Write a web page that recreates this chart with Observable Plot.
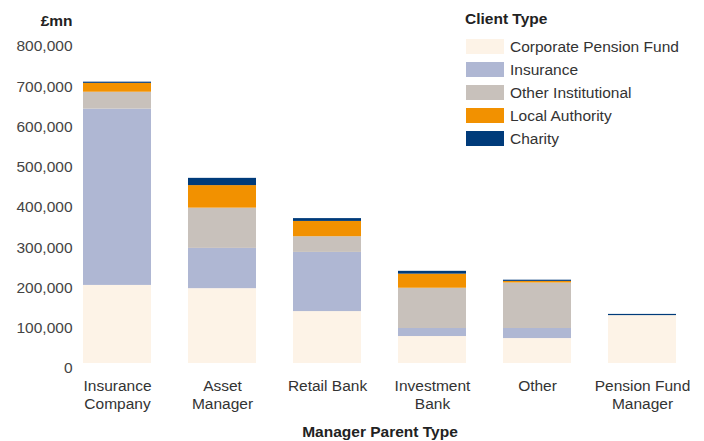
<!DOCTYPE html>
<html>
<head>
<meta charset="utf-8">
<script src="https://cdn.jsdelivr.net/npm/d3@7"></script>
<script src="https://cdn.jsdelivr.net/npm/@observablehq/plot@0.6"></script>
<style>
  html, body { margin: 0; padding: 0; background: #fff; }
  #wrap { position: relative; width: 704px; height: 441px; font-family: "Liberation Sans", Arial, sans-serif; }
  #legend { position: absolute; left: 465px; top: 8px; color: #333; font-size: 15.5px; }
  #legend .title { font-weight: bold; color: #222; height: 22px; line-height: 22px; margin-bottom: 5px; }
  #legend .row { display: flex; align-items: center; height: 23px; }
  #legend .sw { width: 38px; height: 15px; margin-left: 1px; margin-right: 6px; }
  [aria-label="x-axis label"] text, [aria-label="x-axis label"] { font-weight: bold; fill: #222; }
</style>
</head>
<body>
<div id="wrap"><div id="chart"></div><div id="legend"></div></div>
<script>
const categories = ["Insurance Company", "Asset Manager", "Retail Bank", "Investment Bank", "Other", "Pension Fund Manager"];
const tickLabels = ["Insurance\nCompany", "Asset\nManager", "Retail Bank", "Investment\nBank", "Other", "Pension Fund\nManager"];
const clientTypes = ["Corporate Pension Fund", "Insurance", "Other Institutional", "Local Authority", "Charity"];
const colors = ["#fdf3e7", "#afb7d3", "#c8c1bb", "#f29100", "#003b7a"];

const corporatePensionFund = [194000, 186000, 129000, 67000, 62000, 119000];
const insurance            = [438000, 100000, 147000, 20000, 25000, 0];
const otherInstitutional   = [42000, 100000, 39000, 100000, 113000, 0];
const localAuthority       = [22000, 56000, 38000, 35000, 4000, 0];
const charity              = [3000, 18000, 7000, 7000, 3000, 3000];
const yTicks = [0, 100000, 200000, 300000, 400000, 500000, 600000, 700000, 800000];

const series = [corporatePensionFund, insurance, otherInstitutional, localAuthority, charity];
const rows = categories.flatMap((c, i) => clientTypes.map((t, j) => ({category: c, type: t, value: series[j][i]})));

const chart = Plot.plot({
  width: 704,
  height: 441,
  marginLeft: 62,
  marginRight: 7,
  marginTop: 41,
  marginBottom: 78,
  style: {fontFamily: "'Liberation Sans', Arial, sans-serif", fontSize: "15.5px", color: "#333", background: "transparent"},
  x: {domain: categories, paddingInner: 0.357, paddingOuter: 0.18},
  y: {domain: [0, 800000]},
  color: {domain: clientTypes, range: colors},
  marks: [
    Plot.barY(rows, {x: "category", y: "value", fill: "type"}),
    Plot.axisY({ticks: yTicks, tickFormat: d3.format(","), tickSize: 0, tickPadding: 0, dx: 10, dy: 5, label: null, fill: "#444"}),
    Plot.axisX({tickSize: 0, tickPadding: 14, tickFormat: d => tickLabels[categories.indexOf(d)], lineHeight: 1.2, label: "Manager Parent Type", labelAnchor: "center", labelOffset: 73, fill: "#333"}),
    Plot.text(["£mn"], {frameAnchor: "top-left", dx: 10, dy: -27, textAnchor: "end", fontWeight: "bold", fill: "#222"})
  ]
});
document.getElementById("chart").appendChild(chart);

const legend = document.getElementById("legend");
const title = document.createElement("div");
title.className = "title";
title.textContent = "Client Type";
legend.appendChild(title);
clientTypes.forEach((t, i) => {
  const row = document.createElement("div");
  row.className = "row";
  const sw = document.createElement("div");
  sw.className = "sw";
  sw.style.background = colors[i];
  const lab = document.createElement("span");
  lab.textContent = t;
  row.appendChild(sw);
  row.appendChild(lab);
  legend.appendChild(row);
});
</script>
</body>
</html>
